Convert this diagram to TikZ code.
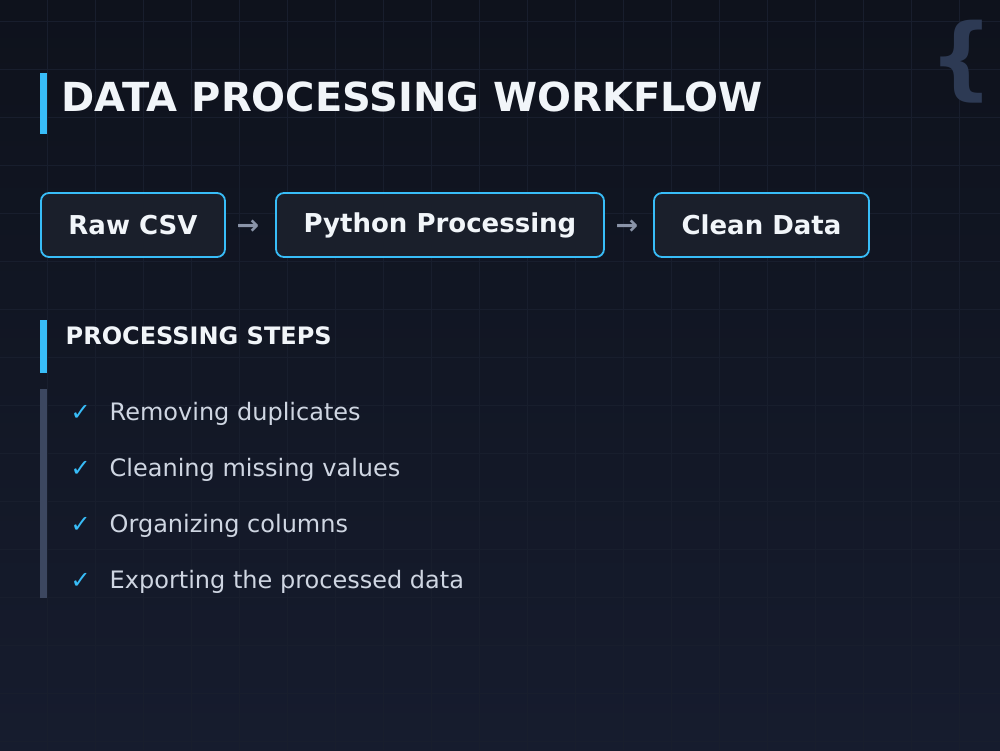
\documentclass[tikz,border=0pt]{standalone}
\usepackage{fontspec}
\setmainfont{DejaVu Sans}
\definecolor{bgtop}{HTML}{0E121C}
\definecolor{bgbot}{HTML}{161C2E}
\definecolor{gridc}{HTML}{181E2D}
\definecolor{accent}{HTML}{38BDF8}
\definecolor{boxfill}{HTML}{1A1F2B}
\definecolor{titlec}{HTML}{F1F5F9}
\definecolor{itemc}{HTML}{CFD6E2}
\definecolor{arrowc}{HTML}{8A94A8}
\definecolor{barc}{HTML}{3C4760}
\definecolor{bracec}{HTML}{2D3A54}
\tikzset{
  stepbox/.style={draw=accent, line width=1.8pt, fill=boxfill, rounded corners=8pt, minimum height=64pt, inner sep=0pt},
  boxtext/.style={anchor=base, inner sep=0pt, text=titlec, font=\bfseries\fontsize{26}{30}\selectfont},
  flowarrow/.style={anchor=base, inner sep=0pt, text=arrowc, font=\bfseries\fontsize{27}{30}\selectfont},
  itemtext/.style={anchor=base west, inner sep=0pt, text=itemc, font=\fontsize{24}{28}\selectfont},
  checkmark/.style={anchor=base west, inner sep=0pt, text=accent, font=\fontsize{24}{28}\selectfont},
}
\begin{document}
\begin{tikzpicture}[x=1pt,y=-1pt]
\useasboundingbox (0,0) rectangle (1000,750);
\shade[top color=bgtop, bottom color=bgbot] (0,0) rectangle (1000,750);
\foreach \i in {0,...,19} \draw[gridc, line width=1pt] (47+48*\i,0) -- (47+48*\i,750);
\foreach \j in {0,...,15} \draw[gridc, line width=1pt] (0,21+48*\j) -- (1000,21+48*\j);
% brace
\node[anchor=base west, inner sep=0pt, text=bracec, font=\bfseries\fontsize{90}{100}\selectfont] (brace) at (929,88.5) {\{};
% title
\fill[accent] (40,73) rectangle (47,134);
\node[anchor=base west, inner sep=0pt, text=titlec, font=\bfseries\fontsize{40}{46}\selectfont] (title) at (61.5,111) {DATA PROCESSING WORKFLOW};
% flow boxes
\node[stepbox, minimum width=184pt] (raw) at (133,225) {};
\node[boxtext] (rawt) at (133,234) {Raw CSV};
\node[flowarrow] (a1) at (248,234) {→};
\node[stepbox, minimum width=328pt] (py) at (440,225) {};
\node[boxtext] (pyt) at (440,232) {Python Processing};
\node[flowarrow] (a2) at (627,234) {→};
\node[stepbox, minimum width=215pt] (clean) at (761.5,225) {};
\node[boxtext] (cleant) at (761.5,234) {Clean Data};
% section heading
\fill[accent] (40,320) rectangle (47,373);
\node[anchor=base west, inner sep=0pt, text=titlec, font=\bfseries\fontsize{24}{28}\selectfont] (steps) at (65.5,344) {PROCESSING STEPS};
% list
\fill[barc] (40,389) rectangle (47,598);
\node[checkmark] (c1) at (70.5,420) {✓};
\node[itemtext] (i1) at (109.5,420) {Removing duplicates};
\node[checkmark] (c2) at (70.5,476) {✓};
\node[itemtext] (i2) at (109.5,476) {Cleaning missing values};
\node[checkmark] (c3) at (70.5,532) {✓};
\node[itemtext] (i3) at (109.5,532) {Organizing columns};
\node[checkmark] (c4) at (70.5,588) {✓};
\node[itemtext] (i4) at (109.5,588) {Exporting the processed data};
\end{tikzpicture}
\end{document}
